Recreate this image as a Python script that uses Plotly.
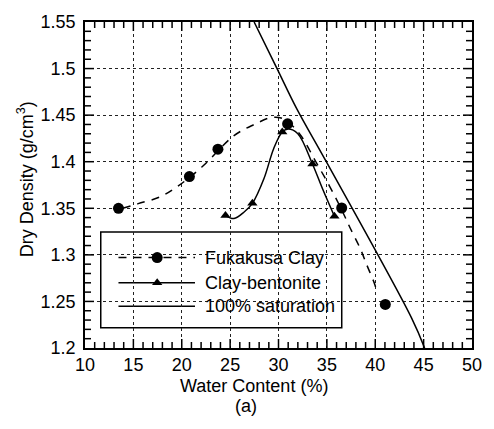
import plotly.graph_objects as go

# Measured points: Fukakusa Clay
fuk_w = [13.46, 20.79, 23.74, 30.94, 36.53, 41.04]
fuk_d = [1.350, 1.384, 1.4135, 1.4407, 1.3503, 1.2468]

# Fitted curve for Fukakusa Clay
fuk_fit_w = [13.9, 15.5, 17.7, 19.5, 22.05, 25.4, 27.5, 29.3, 30.5, 32.19, 33.88, 35.23, 36.5, 37.43, 38.44, 39.12, 39.96, 40.13]
fuk_fit_d = [1.350, 1.355, 1.362, 1.373, 1.394, 1.428, 1.440, 1.4475, 1.446, 1.4297, 1.3995, 1.3747, 1.349, 1.3283, 1.307, 1.2893, 1.268, 1.2608]

# Clay-bentonite
cb_w = [24.52, 27.30, 30.39, 33.51, 35.78]
cb_d = [1.3422, 1.3553, 1.4319, 1.3976, 1.3415]

cb_fit_w = [24.52, 25.4, 26.45, 27.30, 28.5, 29.5, 30.39, 31.0, 32.0, 33.51, 34.55, 35.78]
cb_fit_d = [1.3422, 1.339, 1.346, 1.3553, 1.382, 1.414, 1.4319, 1.435, 1.430, 1.3976, 1.371, 1.3415]

# 100% saturation line
sat_w = [27.48, 29.85, 31.88, 34.94, 43.76, 45.1]
sat_d = [1.55, 1.50, 1.457, 1.40, 1.232, 1.20]

legend_labels = ["Fukakusa Clay", "Clay-bentonite", "100% saturation"]

# axis tick values
X_RANGE = [10, 50]
Y_RANGE = [1.2, 1.55]
x_ticks = list(range(10, 51))                            # every 1 (minor), every 5 (major)
y_ticks = [round(1.2 + 0.01 * i, 2) for i in range(36)]  # every 0.01 (minor), every 0.05 (major)

FONT = "Liberation Sans, Arial, Helvetica, sans-serif"
FS = 18

fig = go.Figure()
fig.add_trace(go.Scatter(x=fuk_fit_w, y=fuk_fit_d, mode="lines",
                         line=dict(color="black", width=1.5, dash="8px,7px", shape="spline"), showlegend=False))
fig.add_trace(go.Scatter(x=fuk_w, y=fuk_d, mode="markers",
                         marker=dict(symbol="circle", size=11, color="black"), showlegend=False))
fig.add_trace(go.Scatter(x=cb_fit_w, y=cb_fit_d, mode="lines",
                         line=dict(color="black", width=1.5, shape="spline"), showlegend=False))
fig.add_trace(go.Scatter(x=cb_w, y=cb_d, mode="markers",
                         marker=dict(symbol="triangle-up", size=9, color="black"), showlegend=False))
fig.add_trace(go.Scatter(x=sat_w, y=sat_d, mode="lines",
                         line=dict(color="black", width=1.5, shape="spline"), showlegend=False))

# ---- hand-drawn legend (box, sample lines, markers, labels) in paper units ----
LX0, LX1, LY0, LY1 = 0.0407, 0.6634, 0.0623, 0.3556
SX0, SX1, MX, TX = 0.0865, 0.2842, 0.1865, 0.305
ROWS = [0.2775, 0.2005, 0.1277]

shapes = [dict(type="rect", xref="paper", yref="paper", x0=LX0, x1=LX1, y0=LY0, y1=LY1,
               line=dict(color="black", width=1.5), fillcolor="white", layer="between")]
dashes = ["8px,7px", "solid", "solid"]
for ry, d in zip(ROWS, dashes):
    shapes.append(dict(type="line", xref="paper", yref="paper", x0=SX0, x1=SX1, y0=ry, y1=ry,
                       line=dict(color="black", width=1.5, dash=d), layer="between"))


def px2x(f):
    return X_RANGE[0] + f * (X_RANGE[1] - X_RANGE[0])


def py2y(f):
    return Y_RANGE[0] + f * (Y_RANGE[1] - Y_RANGE[0])


for ry, sym, sz in ((ROWS[0], "circle", 11), (ROWS[1], "triangle-up", 9)):
    fig.add_trace(go.Scatter(x=[px2x(MX)], y=[py2y(ry)], mode="markers", opacity=1,
                             marker=dict(symbol=sym, size=sz, color="#000000", opacity=1,
                                         line=dict(width=0)),
                             showlegend=False, hoverinfo="skip"))

# ---- inside tick marks on all four sides ----
tick_line = dict(color="black", width=1.5)
for v in x_ticks[1:-1]:
    L = 9 if v % 5 == 0 else 6
    for anchor, (a, b) in ((0, (0, L)), (1, (-L, 0))):
        shapes.append(dict(type="line", xref="x", x0=v, x1=v, yref="paper", ysizemode="pixel",
                           yanchor=anchor, y0=a, y1=b, line=tick_line, layer="above"))
for v in y_ticks[1:-1]:
    L = 9 if round(v * 100) % 5 == 0 else 6
    for anchor, (a, b) in ((0, (0, L)), (1, (-L, 0))):
        shapes.append(dict(type="line", yref="y", y0=v, y1=v, xref="paper", xsizemode="pixel",
                           xanchor=anchor, x0=a, x1=b, line=tick_line, layer="above"))

annotations = []
for ry, lab in zip(ROWS, legend_labels):
    annotations.append(dict(text=lab, xref="paper", yref="paper", x=TX, y=ry, xanchor="left",
                            yanchor="middle", showarrow=False, font=dict(family=FONT, size=FS, color="black")))

annotations += [
    dict(text="Water Content (%)", xref="paper", yref="paper", x=0.437, y=-0.1160,
         xanchor="center", yanchor="middle", showarrow=False, font=dict(family=FONT, size=FS)),
    dict(text="(a)", xref="paper", yref="paper", x=0.4148, y=-0.178,
         xanchor="center", yanchor="middle", showarrow=False, font=dict(family=FONT, size=FS)),
    dict(text="Dry Density (g/cm<sup>3</sup>)", xref="paper", yref="paper", x=-0.1527, y=0.517,
         xanchor="center", yanchor="middle", textangle=-90, showarrow=False, font=dict(family=FONT, size=FS)),
]

grid = dict(showgrid=True, gridcolor="#222222", gridwidth=1, griddash="dot")

fig.update_layout(
    width=494, height=429,
    margin=dict(l=85, r=16, t=19, b=81),
    paper_bgcolor="white", plot_bgcolor="white",
    font=dict(family=FONT, size=FS, color="black"),
    showlegend=False,
    xaxis=dict(range=X_RANGE, dtick=5, tick0=10, showline=True, linecolor="black", linewidth=1.5,
               mirror=True, ticks="", zeroline=False,
               tickfont=dict(family=FONT, size=FS), **grid),
    yaxis=dict(range=Y_RANGE, dtick=0.05, tick0=1.2, showline=True, linecolor="black", linewidth=1.5,
               mirror=True, ticks="", zeroline=False, ticklabelstandoff=4,
               tickfont=dict(family=FONT, size=FS), **grid),
    shapes=shapes,
    annotations=annotations,
)

fig.write_html("out.html", post_script="document.body.style.margin='0';",
               config={"displayModeBar": False})
